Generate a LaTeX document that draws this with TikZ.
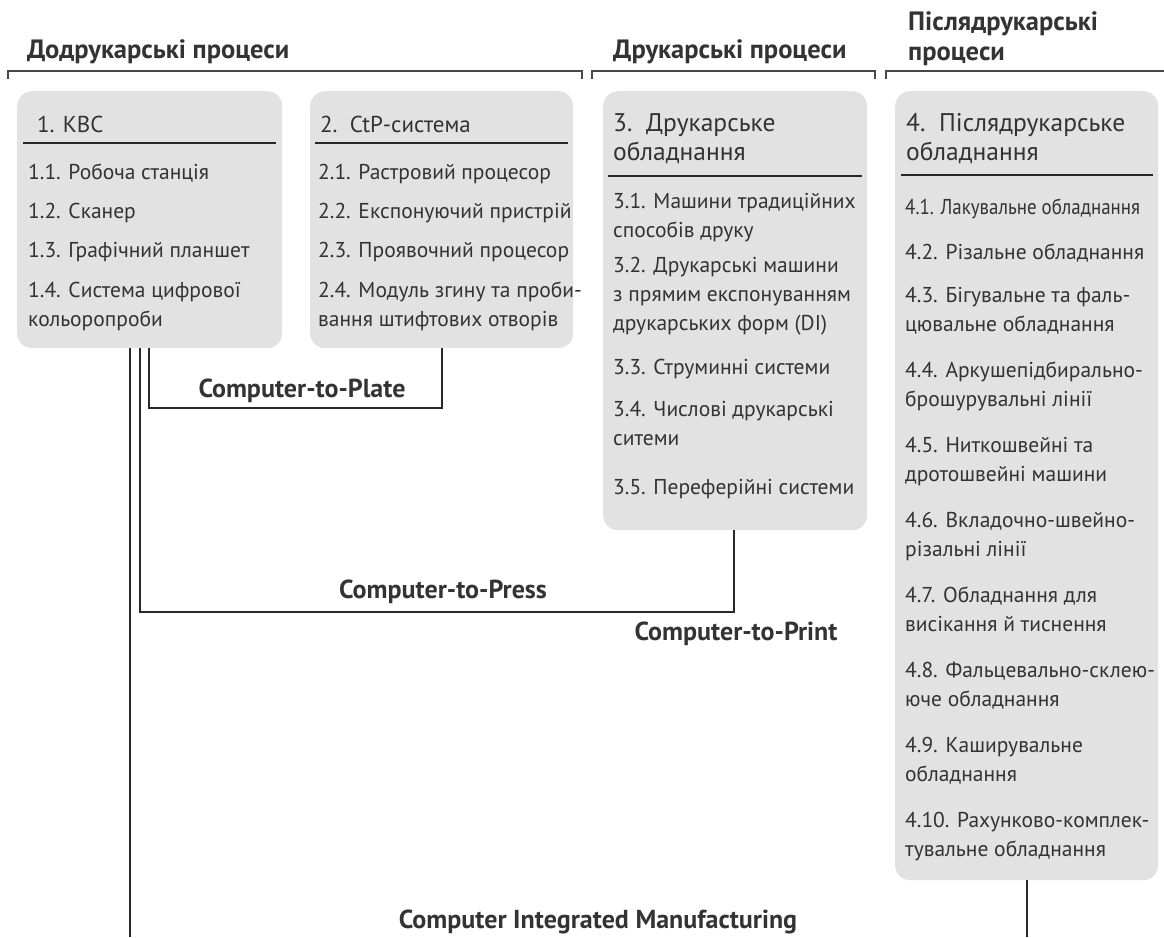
\documentclass[tikz,border=0pt]{standalone}
\usepackage{fontspec}
\setmainfont{PT Sans}
\usepackage{xcolor}
\usepackage{tikz}
\usetikzlibrary{calc}

\definecolor{sirij}{RGB}{226,226,226}
\definecolor{tekst}{RGB}{51,51,51}
\definecolor{linija}{RGB}{40,40,40}

\tikzset{
  blok/.style={fill=sirij, rounded corners=15pt, inner sep=0pt, anchor=north west},
  punkt/.style={anchor=base west, inner sep=0pt, align=left, text=tekst,
    font=\fontsize{21.5}{29}\selectfont},
  titul/.style={punkt, font=\fontsize{23}{30}\selectfont},
  velykyj/.style={punkt, font=\fontsize{25.5}{29}\selectfont},
  rozdil/.style={anchor=base west, inner sep=0pt, align=left, text=tekst,
    font=\bfseries\fontsize{26.5}{30}\selectfont},
  napys/.style={inner sep=0pt, text=tekst, font=\bfseries\fontsize{26}{30}\selectfont},
  zvjazok/.style={draw=linija, line width=2pt},
  dugka/.style={draw=linija!85, line width=1.3pt},
  riska/.style={draw=linija, line width=2pt}
}

\begin{document}
\begin{tikzpicture}[x=1pt,y=-1pt]
        \useasboundingbox (0,0) rectangle (1164,937);
        %ROZDILY
        \node[rozdil] (dodruk) at (27,58) {Додрукарські процеси};
        \node[rozdil] (druk) at (613,58) {Друкарські процеси};
        \node[rozdil] (pisla) at (908,60) {Післядрукарські\\процеси};
        \draw[dugka] (8,79) -- (8,71) -- (582,71) -- (582,79);
        \draw[dugka] (592,79) -- (592,71) -- (875,71) -- (875,79);
        \draw[dugka] (886,79) -- (886,71) -- (1164,71);

        %BLOKY
        \node[blok, minimum width=265pt, minimum height=257pt] (kvs) at (17,91) {};
        \node[blok, minimum width=263pt, minimum height=257pt] (ctp) at (310,91) {};
        \node[blok, minimum width=264pt, minimum height=439pt] (drob) at (603,91) {};
        \node[blok, minimum width=263pt, minimum height=789pt] (pob) at (895,91) {};

        \draw[riska] ([shift={(6pt,-52pt)}]kvs.north west) -- ([shift={(-6pt,-52pt)}]kvs.north east);
        \draw[riska] ([shift={(5pt,-52pt)}]ctp.north west) -- ([shift={(-5pt,-52pt)}]ctp.north east);
        \draw[riska] ([shift={(5pt,-85pt)}]drob.north west) -- ([shift={(-5pt,-85pt)}]drob.north east);
        \draw[riska] ([shift={(6pt,-84pt)}]pob.north west) -- ([shift={(-5pt,-84pt)}]pob.north east);

        %TEKST (y = baseline of the last line)
        \node[titul] (kvs0) at (37,132) {1. КВС};
        \foreach \y/\t [count=\i] in {179/{1.1. Робоча станція}, 218/{1.2. Сканер},
            257/{1.3. Графічний планшет}, 326/{1.4. Система цифрової\\кольоропроби}}
          \node[punkt] (kvs\i) at (28,\y) {\t};

        \node[titul] (ctp0) at (320,132) {2.\ \ CtP-система};
        \foreach \y/\t [count=\i] in {179/{2.1. Растровий процесор}, 218/{2.2. Експонуючий пристрій},
            257/{2.3. Проявочний процесор}, 326/{2.4. Модуль згину та проби-\\вання штифтових отворів}}
          \node[punkt] (ctp\i) at (318,\y) {\t};

        \node[velykyj] (drob0) at (613,160) {3.\ \ Друкарське\\обладнання};
        \foreach \y/\t [count=\i] in {237/{3.1. Машини традиційних\\способів друку},
            330/{3.2. Друкарські машини\\з прямим експонуванням\\друкарських форм (DI)},
            374/{3.3. Струминні системи}, 445/{3.4. Числові друкарські\\ситеми},
            494/{3.5. Переферійні системи}}
          \node[punkt] (drob\i) at (613,\y) {\t};

        \node[velykyj] (pob0) at (906,160) {4.\ \ Післядрукарське\\обладнання};
        \foreach \y/\t [count=\i] in {214/{\scalebox{0.88}[1]{4.1. Лакувальне обладнання}},
            259/{4.2. Різальне обладнання},
            331/{4.3. Бігувальне та фаль-\\цювальне обладнання},
            406/{4.4. Аркушепідбирально-\\брошурувальні лінії},
            481/{4.5. Ниткошвейні та\\дротошвейні машини},
            556/{4.6. Вкладочно-швейно-\\різальні лінії},
            631/{4.7. Обладнання для\\висікання й тиснення},
            706/{4.8. Фальцевально-склею-\\юче обладнання},
            781/{4.9. Каширувальне\\обладнання},
            856/{4.10. Рахунково-комплек-\\тувальне обладнання}}
          \node[punkt] (pob\i) at (905,\y) {\t};

        %ZVJAZKY
        \draw[zvjazok] ([xshift=132pt]kvs.south west) -- ++(0,60) -| ([xshift=132pt]ctp.south west);
        \node[napys] (plate) at (302,391) {Computer-to-Plate};
        \draw[zvjazok] ([xshift=123pt]kvs.south west) -- ++(0,264) -| ([xshift=131pt]drob.south west);
        \node[napys] (press) at (443,592) {Computer-to-Press};
        \node[napys] (print) at (736,634) {Computer-to-Print};
        \coordinate (cimL) at (130,937);
        \coordinate (cimR) at (1027,937);
        \draw[zvjazok] ([xshift=113pt]kvs.south west) -- (cimL);
        \draw[zvjazok] ([xshift=132pt]pob.south west) -- (cimR);
        \node[napys] (cim) at (598,922) {Computer Integrated Manufacturing};
\end{tikzpicture}
\end{document}
